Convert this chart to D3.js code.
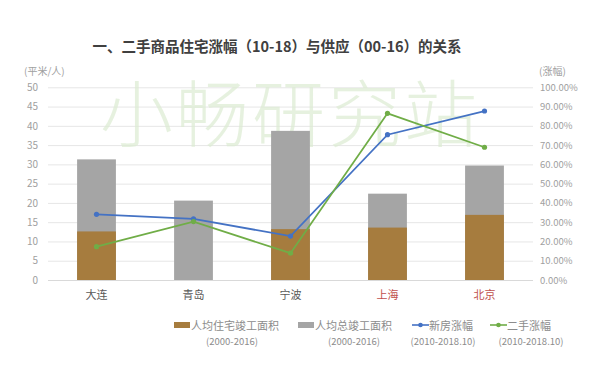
<!DOCTYPE html>
<html><head><meta charset="utf-8">
<script src="https://cdn.jsdelivr.net/npm/d3@7"></script>
<style>body{margin:0;background:#fff}svg{display:block}</style>
</head><body>
<svg id="c" width="604" height="380"></svg>
<script>
const cities = ["大连","青岛","宁波","上海","北京"];
const redCities = ["上海","北京"];
const totalArea = [31.3, 20.6, 38.7, 22.4, 29.7];
const resArea = [12.6, 0, 13.2, 13.6, 16.9];
const newRise = [34.1, 31.7, 22.8, 75.4, 87.7];
const usedRise = [17.3, 30.3, 13.9, 86.5, 68.9];
const leftTicks = [0,5,10,15,20,25,30,35,40,45,50];
const rightTicks = [0,10,20,30,40,50,60,70,80,90,100];

const svg = d3.select("#c");
const font = "'Noto Sans CJK SC','Noto Sans',sans-serif";
const m = {l:48, r:533, t:87.3, b:280};
const x = d3.scaleBand().domain(cities).range([m.l, m.r]).paddingInner(0.6).paddingOuter(0.3);
const yL = d3.scaleLinear().domain([0,50]).range([m.b, m.t]);
const yR = d3.scaleLinear().domain([0,100]).range([m.b, m.t]);

// title
svg.append("text").attr("x",277).attr("y",52).attr("text-anchor","middle")
  .attr("font-family",font).attr("font-size",14.5).attr("font-weight","bold").attr("fill","#404040")
  .text("一、二手商品住宅涨幅（10-18）与供应（00-16）的关系");

// gridlines
svg.append("g").selectAll("line").data(leftTicks).join("line")
  .attr("x1",m.l).attr("x2",m.r).attr("y1",d=>yL(d)+0.5).attr("y2",d=>yL(d)+0.5)
  .attr("stroke",d=>d===0?"#d9d9d9":"#e6e6e6").attr("stroke-width",1);

// watermark
svg.append("text").attr("x",290).attr("y",141).attr("text-anchor","middle")
  .attr("font-family",font).attr("font-size",73).attr("font-weight",300)
  .attr("fill","#dcebd2").attr("fill-opacity",0.7).attr("letter-spacing",3)
  .text("小畅研究站");

// left axis
const axL = d3.axisLeft(yL).tickValues(leftTicks).tickSize(0).tickPadding(0);
const gL = svg.append("g").attr("transform","translate(38,0)").call(axL);
gL.select(".domain").remove();
gL.selectAll("text").attr("font-family",font).attr("font-size",10).attr("fill","#a0a0a0");
// right axis
const axR = d3.axisRight(yR).tickValues(rightTicks).tickSize(0).tickPadding(0).tickFormat(d=>d3.format(".2f")(d)+"%");
const gR = svg.append("g").attr("transform","translate(540,0)").call(axR);
gR.select(".domain").remove();
gR.selectAll("text").attr("font-family",font).attr("font-size",9.5).attr("fill","#a0a0a0");

svg.append("text").attr("x",24).attr("y",75).attr("font-family",font).attr("font-size",10).attr("fill","#a0a0a0").text("(平米/人)");
svg.append("text").attr("x",539).attr("y",75).attr("font-family",font).attr("font-size",10).attr("fill","#a0a0a0").text("(涨幅)");

// bars
svg.append("g").selectAll("rect").data(cities).join("rect")
  .attr("x",d=>x(d)).attr("width",x.bandwidth())
  .attr("y",(d,i)=>yL(totalArea[i])).attr("height",(d,i)=>m.b-yL(totalArea[i]))
  .attr("fill","#a5a5a5");
svg.append("g").selectAll("rect").data(cities).join("rect")
  .attr("x",d=>x(d)).attr("width",x.bandwidth())
  .attr("y",(d,i)=>yL(resArea[i])).attr("height",(d,i)=>m.b-yL(resArea[i]))
  .attr("fill","#a67c3e");

// lines
const cx = d=>x(d)+x.bandwidth()/2;
function drawLine(vals,color){
  const line = d3.line().x((d,i)=>cx(cities[i])).y(d=>yR(d));
  svg.append("path").datum(vals).attr("d",line).attr("fill","none").attr("stroke",color).attr("stroke-width",1.8);
  svg.append("g").selectAll("circle").data(vals).join("circle")
    .attr("cx",(d,i)=>cx(cities[i])).attr("cy",d=>yR(d)).attr("r",2.6).attr("fill",color);
}
drawLine(newRise,"#4472c4");
drawLine(usedRise,"#70ad47");

// x labels
svg.append("g").selectAll("text").data(cities).join("text")
  .attr("x",d=>cx(d)).attr("y",299).attr("text-anchor","middle")
  .attr("font-family",font).attr("font-size",11)
  .attr("fill",d=>redCities.includes(d)?"#c0504d":"#595959").text(d=>d);

// legend
const legend = [
  {name:"人均住宅竣工面积", sub:"(2000-2016)", color:"#a67c3e", type:"rect", x:174, subx:232},
  {name:"人均总竣工面积", sub:"(2000-2016)", color:"#a5a5a5", type:"rect", x:298, subx:354},
  {name:"新房涨幅", sub:"(2010-2018.10)", color:"#4472c4", type:"line", x:412, subx:443},
  {name:"二手涨幅", sub:"(2010-2018.10)", color:"#70ad47", type:"line", x:490, subx:531}
];
const lg = svg.append("g").selectAll("g").data(legend).join("g");
lg.filter(d=>d.type==="rect").append("rect").attr("x",d=>d.x).attr("y",322).attr("width",16).attr("height",6).attr("fill",d=>d.color);
lg.filter(d=>d.type==="line").append("line").attr("x1",d=>d.x).attr("x2",d=>d.x+17).attr("y1",325).attr("y2",325).attr("stroke",d=>d.color).attr("stroke-width",1.6);
lg.filter(d=>d.type==="line").append("circle").attr("cx",d=>d.x+8.5).attr("cy",325).attr("r",2.3).attr("fill",d=>d.color);
lg.append("text").attr("x",d=>d.x+17).attr("y",330).attr("font-family",font).attr("font-size",11).attr("fill","#8c8c8c").text(d=>d.name);
lg.append("text").attr("x",d=>d.subx).attr("y",345).attr("text-anchor","middle").attr("font-family",font).attr("font-size",9.5).attr("fill","#8c8c8c").text(d=>d.sub);
</script>
</body></html>
